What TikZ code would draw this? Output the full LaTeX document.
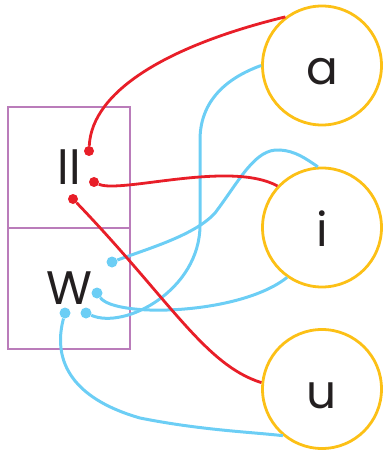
\documentclass[tikz,border=0pt]{standalone}
\usepackage{fontspec}
\setmainfont{Poppins}
\usetikzlibrary{positioning, calc}

\definecolor{vowelyellow}{RGB}{252,192,22}
\definecolor{cellpurple}{RGB}{186,124,186}
\definecolor{linkred}{RGB}{232,30,40}
\definecolor{linkblue}{RGB}{108,206,245}
\definecolor{letter}{RGB}{35,31,32}

\begin{document}
\begin{tikzpicture}[x=1pt, y=-1pt,
    vowel/.style={circle, draw=vowelyellow, line width=2.8pt, minimum size=119pt, inner sep=0pt,
        font=\fontsize{47}{47}\selectfont, text=letter, text height=38pt, text depth=0pt},
    cell/.style={rectangle, draw=cellpurple, line width=2pt, minimum width=122pt, minimum height=121pt,
        inner sep=0pt, font=\fontsize{47}{47}\selectfont, text=letter},
    reddot/.style={circle, fill=linkred, inner sep=0pt, minimum size=10pt},
    bluedot/.style={circle, fill=linkblue, inner sep=0pt, minimum size=11pt},
    redlink/.style={draw=linkred, line width=2.8pt},
    bluelink/.style={draw=linkblue, line width=3pt}]
    \useasboundingbox (0,0) rectangle (385,454);

    % Buňky s písmeny
    \node[cell] (ll) at (69,167.5) {ll};
    \node[cell] (w) at (69,288) {W};

    % Samohlásky
    \node[vowel] (a) at (322,65.5) {a};
    \node[vowel] (i) at (322,227.5) {i};
    \node[vowel] (u) at (322,389) {u};

    % Body u písmen
    \node[reddot] (ll1) at (89,151) {};
    \node[reddot] (ll2) at (94,182) {};
    \node[reddot] (ll3) at (73,199) {};
    \node[bluedot] (w1) at (112,262) {};
    \node[bluedot] (w2) at (97,293) {};
    \node[bluedot] (w3) at (65,313) {};
    \node[bluedot] (w4) at (86,313) {};

    % Modré spoje
    \draw[bluelink] (w4) .. controls (125,330) and (200,290) .. (200,225)
        -- (200,140) .. controls (200,95) and (235,75) .. (a.180);
    \draw[bluelink] (w1) .. controls (150,248) and (195,235) .. (215,213)
        .. controls (240,180) and (255,148) .. (280,150)
        .. controls (295,151) and (305,158) .. (i.94);
    \draw[bluelink] (w2) .. controls (115,318) and (240,315) .. (i.235);
    \draw[bluelink] (w3) .. controls (55,350) and (60,395) .. (140,418)
        .. controls (200,430) and (250,432) .. (u.230);

    % Červené spoje
    \draw[redlink] (ll1) .. controls (92,90) and (170,45) .. (a.127);
    \draw[redlink] (ll2) .. controls (120,194) and (230,160) .. (i.137);
    \draw[redlink] (ll3) .. controls (170,300) and (205,365) .. (u.174);

\end{tikzpicture}
\end{document}
